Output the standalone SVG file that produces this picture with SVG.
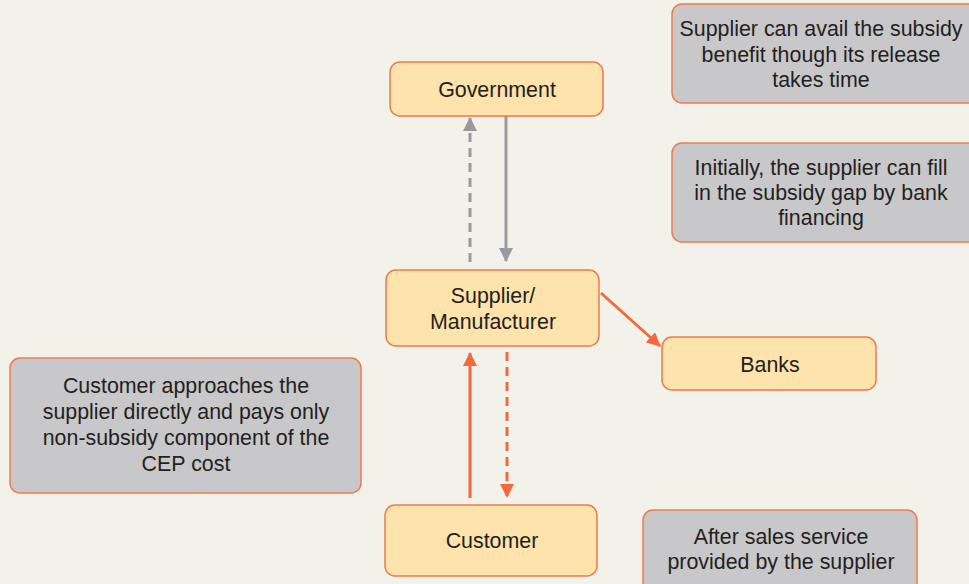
<svg xmlns="http://www.w3.org/2000/svg" width="969" height="584" viewBox="0 0 969 584">
<style>
text{font-family:"Liberation Sans",Arial,sans-serif;font-size:21.4px;fill:#231f20;text-anchor:middle}
.node{fill:#fee3ad;stroke:#f07a4c;stroke-width:1.5}
.note{fill:#c8c8ca;stroke:#f07a4c;stroke-width:1.5}
.g{stroke:#9a9a9e;stroke-width:3;fill:none}
.o{stroke:#f26a3e;stroke-width:3;fill:none}
.d{stroke-dasharray:9,6}
</style>
<defs>
<marker id="ag" markerWidth="14" markerHeight="14" viewBox="0 0 14 14" refX="13" refY="7" orient="auto" markerUnits="userSpaceOnUse"><path d="M0,0 L14,7 L0,14 Z" fill="#9a9a9e"/></marker>
<marker id="ao" markerWidth="14" markerHeight="14" viewBox="0 0 14 14" refX="13" refY="7" orient="auto" markerUnits="userSpaceOnUse"><path d="M0,0 L14,7 L0,14 Z" fill="#f26a3e"/></marker>
</defs>
<rect width="969" height="584" fill="#f2f1ea"/>
<g id="connectors">
<line class="g d" x1="470" y1="262" x2="470" y2="118" marker-end="url(#ag)"/>
<line class="g" x1="506" y1="116" x2="506" y2="261" marker-end="url(#ag)"/>
<line class="o" x1="470" y1="498" x2="470" y2="353" marker-end="url(#ao)"/>
<line class="o d" x1="507" y1="352" x2="507" y2="497" marker-end="url(#ao)"/>
<line class="o" x1="601" y1="293" x2="660" y2="346" marker-end="url(#ao)"/>
</g>
<g id="government"><rect class="node" x="390" y="62" width="213" height="54" rx="10"/><text x="497" y="97">Government</text></g>
<g id="supplier"><rect class="node" x="386" y="270" width="213" height="76" rx="10"/><text x="493" y="303">Supplier/</text><text x="493" y="329">Manufacturer</text></g>
<g id="customer"><rect class="node" x="385" y="505" width="212" height="71" rx="10"/><text x="492" y="548">Customer</text></g>
<g id="banks"><rect class="node" x="662" y="337" width="214" height="53" rx="10"/><text x="770" y="372">Banks</text></g>
<g id="note-subsidy"><rect class="note" x="672" y="4" width="310" height="99" rx="10"/><text x="821" y="36">Supplier can avail the subsidy</text><text x="821" y="62">benefit though its release</text><text x="821" y="87">takes time</text></g>
<g id="note-bank"><rect class="note" x="672" y="143" width="310" height="99" rx="10"/><text x="821" y="175">Initially, the supplier can fill</text><text x="821" y="200">in the subsidy gap by bank</text><text x="821" y="225">financing</text></g>
<g id="note-customer"><rect class="note" x="10" y="358" width="351" height="135" rx="10"/><text x="186" y="393">Customer approaches the</text><text x="186" y="419">supplier directly and pays only</text><text x="186" y="445">non-subsidy component of the</text><text x="186" y="471">CEP cost</text></g>
<g id="note-service"><rect class="note" x="643" y="510" width="274" height="90" rx="10"/><text x="781" y="544">After sales service</text><text x="781" y="569">provided by the supplier</text></g>
</svg>
